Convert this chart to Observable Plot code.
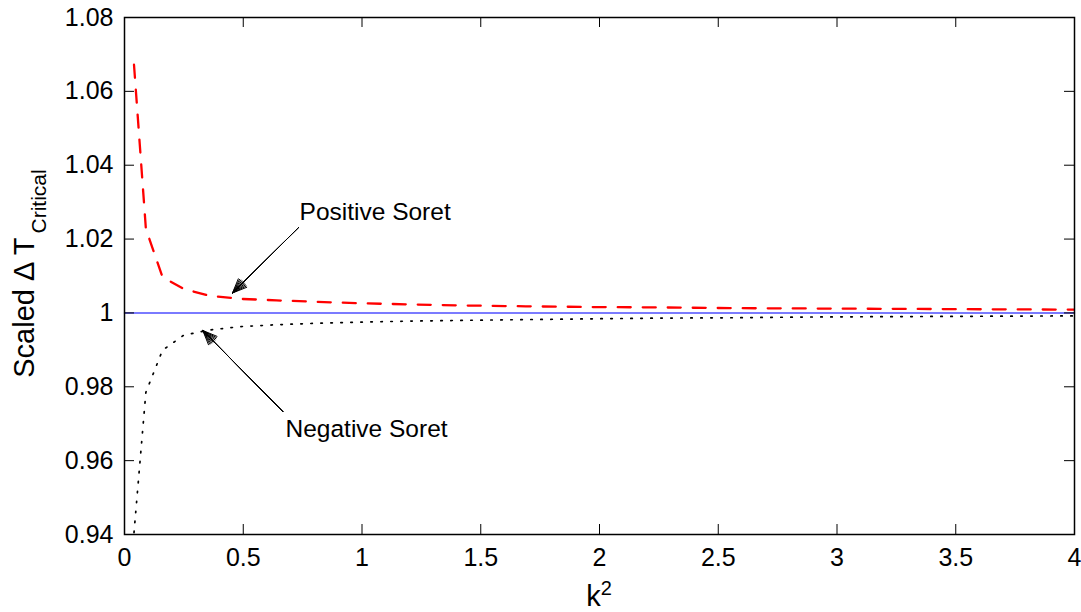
<!DOCTYPE html>
<html>
<head>
<meta charset="utf-8">
<script src="https://cdn.jsdelivr.net/npm/d3@7"></script>
<script src="https://cdn.jsdelivr.net/npm/@observablehq/plot@0.6"></script>
<style>
  html, body { margin: 0; padding: 0; background: #fff; }
  #chart svg { display: block; }
</style>
</head>
<body>
<div id="chart"></div>
<script>
// ---- data ----
const k2 = [0.04, 0.09, 0.16, 0.25, 0.36, 0.49, 0.64, 0.81, 1, 1.21, 1.44, 1.69, 1.96, 2.25, 2.56, 2.89, 3.24, 3.61, 4];
const positiveSoret = [1.0672, 1.0228, 1.0097, 1.0065, 1.0046, 1.0038, 1.0034, 1.0030, 1.0026, 1.0023, 1.0020, 1.0018, 1.0016, 1.0015, 1.0013, 1.0012, 1.0011, 1.0010, 1.0009];
const negativeSoret = [0.9405, 0.9785, 0.9899, 0.9940, 0.9954, 0.9963, 0.9968, 0.9972, 0.9975, 0.9978, 0.9980, 0.9982, 0.9984, 0.9986, 0.9987, 0.9989, 0.9990, 0.9991, 0.9992];
const referenceX = [0, 4];
const referenceY = [1, 1];

const xTicks = [0, 0.5, 1, 1.5, 2, 2.5, 3, 3.5, 4];
const xTickLabels = ["0", "0.5", "1", "1.5", "2", "2.5", "3", "3.5", "4"];
const yTicks = [0.94, 0.96, 0.98, 1.00, 1.02, 1.04, 1.06, 1.08];
const yTickLabels = ["0.94", "0.96", "0.98", "1", "1.02", "1.04", "1.06", "1.08"];

const annotationText = ["Positive Soret", "Negative Soret"];
const annotationX = [0.737, 0.678];
const annotationY = [1.0273, 0.9684];
const arrowX1 = [0.7326, 0.6667];
const arrowY1 = [1.0231, 0.9733];
const arrowX2 = [0.4547, 0.3298];
const arrowY2 = [1.0054, 0.99524];
const headAngles = [46, 36, 26, 16, 6];

const xLabel = "k";
const xLabelSup = "2";
const yLabel = "Scaled \u0394 T";
const yLabelSub = "Critical";

// ---- layout ----
const W = 1081, H = 612;
const mL = 124, mR = 7, mT = 17, mB = 78;
const innerW = W - mL - mR, innerH = H - mT - mB;
const tickLen = 10;
const FONT = "'Liberation Sans', Arial, Helvetica, sans-serif";

const arrowMarks = headAngles.map(a => Plot.arrow(annotationText, {
  x1: (d, i) => arrowX1[i], y1: (d, i) => arrowY1[i],
  x2: (d, i) => arrowX2[i], y2: (d, i) => arrowY2[i],
  stroke: "black", strokeWidth: 1, headLength: 23, headAngle: a
}));

const chart = Plot.plot({
  width: W, height: H,
  marginLeft: mL, marginRight: mR, marginTop: mT, marginBottom: mB,
  style: { fontFamily: FONT, background: "#fff", color: "black" },
  x: { domain: [0, 4] },
  y: { domain: [0.94, 1.08] },
  marks: [
    Plot.line(k2, { x: d => d, y: (d, i) => negativeSoret[i], stroke: "black", strokeWidth: 1.7, strokeDasharray: "1.5,8.5", clip: true }),
    Plot.line(referenceX, { x: d => d, y: (d, i) => referenceY[i], stroke: "#4f4fff", strokeWidth: 1.5 }),
    Plot.line(k2, { x: d => d, y: (d, i) => positiveSoret[i], stroke: "#ff0000", strokeWidth: 2.3, strokeDasharray: "13,12", clip: true }),
    ...arrowMarks,
    Plot.text(annotationText, {
      x: (d, i) => annotationX[i], y: (d, i) => annotationY[i], text: d => d,
      textAnchor: "start", lineAnchor: "middle", fontSize: 24.5, fill: "black"
    }),
    // inward ticks (bottom, top, left, right)
    Plot.tickX(xTicks, { x: d => d, insetTop: innerH - tickLen, stroke: "black", strokeWidth: 1 }),
    Plot.tickX(xTicks, { x: d => d, insetBottom: innerH - tickLen, stroke: "black", strokeWidth: 1 }),
    Plot.tickY(yTicks, { y: d => d, insetRight: innerW - tickLen, stroke: "black", strokeWidth: 1 }),
    Plot.tickY(yTicks, { y: d => d, insetLeft: innerW - tickLen, stroke: "black", strokeWidth: 1 }),
    Plot.frame({ stroke: "black", strokeWidth: 1.5 }),
    Plot.axisX({ ticks: xTicks, tickSize: 0, tickPadding: 14, fontSize: 25, label: null,
      tickFormat: d => xTickLabels[xTicks.indexOf(d)] }),
    Plot.axisY({ ticks: yTicks, tickSize: 0, tickPadding: 11, fontSize: 25, label: null,
      tickFormat: d => yTickLabels[yTicks.findIndex(t => Math.abs(t - d) < 1e-9)] })
  ]
});

document.getElementById("chart").appendChild(chart);

// axis titles with sub/superscripts
const svg = d3.select(chart);
const yl = svg.append("text")
  .attr("transform", `translate(34, ${mT + innerH / 2 - 2}) rotate(-90)`)
  .attr("text-anchor", "middle")
  .attr("font-family", FONT)
  .attr("font-size", 29)
  .attr("fill", "black");
yl.append("tspan").text(yLabel);
yl.append("tspan").attr("dy", 12).attr("dx", 4).attr("font-size", 21).text(yLabelSub);

const xl = svg.append("text")
  .attr("x", mL + innerW / 2)
  .attr("y", 606)
  .attr("text-anchor", "middle")
  .attr("font-family", FONT)
  .attr("font-size", 29)
  .attr("fill", "black");
xl.append("tspan").text(xLabel);
xl.append("tspan").attr("dy", -11).attr("font-size", 20).text(xLabelSup);
</script>
</body>
</html>
